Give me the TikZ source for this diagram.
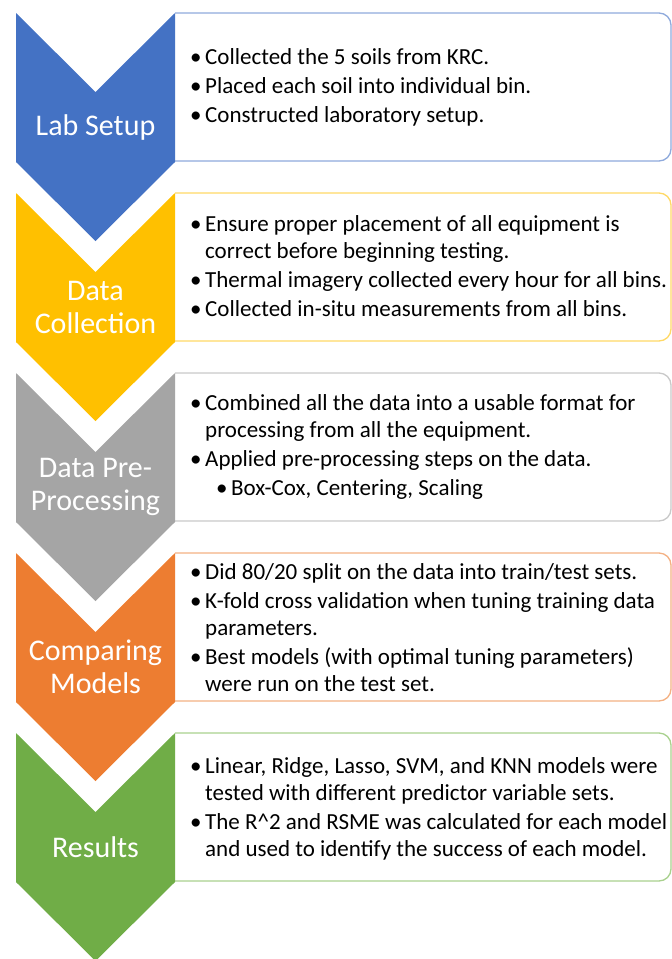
\documentclass[tikz,border=0pt]{standalone}
\usepackage{fontspec}
\setmainfont{Carlito}
\definecolor{cblue}{HTML}{4472C4}
\definecolor{cyellow}{HTML}{FFC000}
\definecolor{cgray}{HTML}{A5A5A5}
\definecolor{corange}{HTML}{ED7D31}
\definecolor{cgreen}{HTML}{70AD47}
\definecolor{lblue}{HTML}{8FAADC}
\definecolor{lyellow}{HTML}{FFD966}
\definecolor{lgray}{HTML}{C9C9C9}
\definecolor{lorange}{HTML}{F4B183}
\definecolor{lgreen}{HTML}{A9D18E}
\newcommand{\bitem}{\makebox[15pt][l]{\textbullet}}
\newcommand{\bcont}{\hspace*{15pt}}
\newcommand{\bsub}{\hspace*{26pt}\makebox[15pt][l]{\textbullet}}
\tikzset{
  chevshape/.style={fill=#1, draw=none},
  infobox/.style={draw=#1, line width=1.3pt, fill=white, rounded corners=12pt},
  chevlabel/.style={text=white, font=\fontsize{30}{33}\selectfont, align=center, inner sep=0pt},
  bultext/.style={anchor=west, align=left, font=\fontsize{23}{27}\selectfont, inner sep=0pt, text=black},
}
\newcommand{\chev}[2]{% #1 top y, #2 colour
  \fill[chevshape=#2] (16,#1) -- (95.5,#1+79) -- (175,#1) -- (175,#1+149) -- (95.5,#1+228) -- (16,#1+149) -- cycle;}
\newcommand{\ibox}[2]{% #1 top y, #2 colour
  \draw[infobox=#2] (175,#1) -- (671,#1) -- (671,#1+148) -- (175,#1+148);}
\begin{document}
\begin{tikzpicture}[x=1pt,y=-1pt]
\useasboundingbox (0,0) rectangle (672,959);
% boxes
\ibox{13}{lblue}
\ibox{193}{lyellow}
\ibox{373}{lgray}
\ibox{553}{lorange}
\ibox{733}{lgreen}
% chevrons
\chev{13}{cblue}
\chev{193}{cyellow}
\chev{373}{cgray}
\chev{553}{corange}
\chev{733}{cgreen}
% labels
\node[chevlabel] (l1) at (95.5,127.5) {Lab Setup};
\node[chevlabel] (l2) at (95.5,307) {Data\\Collection};
\node[chevlabel] (l3) at (95.5,487) {Data Pre-\\Processing};
\node[chevlabel] (l4) at (95.5,667) {Comparing\\Models};
\node[chevlabel] (l5) at (95.5,847) {Results};
% texts
\node[bultext] (t1) at (190,87) {\bitem Collected the 5 soils from KRC.\\[2pt]
\bitem Placed each soil into individual bin.\\[2pt]
\bitem Constructed laboratory setup.};
\node[bultext] (t2) at (190,266) {\bitem Ensure proper placement of all equipment is\\
\bcont correct before beginning testing.\\[2pt]
\bitem Thermal imagery collected every hour for all bins.\\[2pt]
\bitem Collected in-situ measurements from all bins.};
\node[bultext] (t3) at (190,447) {\bitem Combined all the data into a usable format for\\
\bcont processing from all the equipment.\\[2pt]
\bitem Applied pre-processing steps on the data.\\[2pt]
\bsub Box-Cox, Centering, Scaling};
\node[bultext] (t4) at (190,628) {\bitem Did 80/20 split on the data into train/test sets.\\[2pt]
\bitem K-fold cross validation when tuning training data\\
\bcont parameters.\\[2pt]
\bitem Best models (with optimal tuning parameters)\\
\bcont were run on the test set.};
\node[bultext] (t5) at (190,809) {\bitem Linear, Ridge, Lasso, SVM, and KNN models were\\
\bcont tested with different predictor variable sets.\\[2pt]
\bitem The R\^{}2 and RSME was calculated for each model\\
\bcont and used to identify the success of each model.};
\end{tikzpicture}
\end{document}
